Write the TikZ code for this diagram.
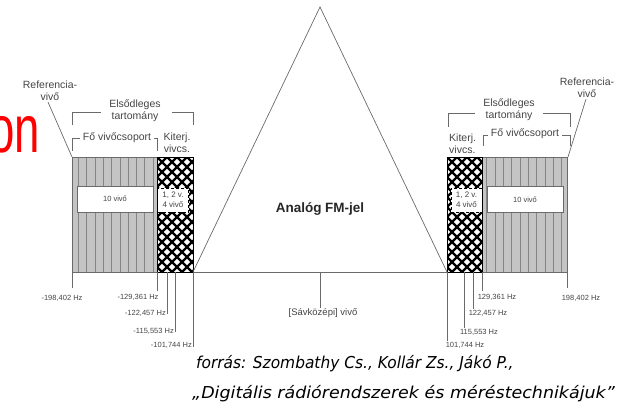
\documentclass[tikz,border=0pt]{standalone}
\usepackage{fontspec}
\setmainfont{Liberation Sans}
\newfontfamily\capfont{DejaVu Sans}
\definecolor{txtgray}{HTML}{444444}
\definecolor{linegray}{HTML}{6A6A6A}
\definecolor{stripefill}{HTML}{C4C4C4}
\definecolor{stripeline}{HTML}{858585}
\begin{document}
\begin{tikzpicture}[x=1pt,y=-1pt,
  lbl/.style={font=\fontsize{10.5}{12}\selectfont, text=txtgray, inner sep=0pt, align=center},
  freq/.style={font=\fontsize{7.5}{8}\selectfont, text=txtgray, inner sep=0pt},
  ln/.style={draw=linegray, line width=0.7pt},
  stripe/.style={draw=stripeline, line width=0.9pt},
  hatch/.style={draw=black, line width=2.2pt},
  bigbox/.style={draw=linegray, fill=white, line width=0.6pt, minimum width=76pt, minimum height=26pt, inner sep=0pt, font=\fontsize{7.5}{8}\selectfont, text=txtgray},
  smallbox/.style={draw=black, densely dashed, fill=white, line width=0.6pt, minimum width=31pt, minimum height=24pt, inner sep=0pt, align=center, font=\fontsize{8}{10}\selectfont, text=txtgray},
  capt/.style={font=\capfont\itshape\fontsize{16.4}{20}\selectfont, text=black, inner sep=0pt, anchor=base west}
]
\useasboundingbox (0,0) rectangle (619,412);

% partial red title
\node[anchor=base east, inner sep=0pt, text=red, font=\fontsize{67}{67}\selectfont, xscale=0.68] (title) at (40,153) {on};

% ---------- left blocks ----------
\fill[stripefill] (72,157) rectangle (157,272);
\foreach \i in {0,...,9} \draw[stripe] ({78.3+8.33*\i},157) -- ({78.3+8.33*\i},272);
\draw[draw=linegray, line width=0.6pt] (72,157) rectangle (157,272);
\begin{scope}
  \clip (157,157) rectangle (193,272);
  \fill[white] (157,157) rectangle (193,272);
  \foreach \k in {-13,...,4} \draw[hatch] ({157+10*\k},157) -- ++(135,135);
  \foreach \k in {0,...,17} \draw[hatch] ({157+10*\k},157) -- ++(-135,135);
\end{scope}
\draw[black, line width=0.6pt] (157,157) rectangle (193,272);
\node[bigbox] (tenL) at (115,199) {10 vivő};
\node[smallbox] (kiL) at (173,200) {1, 2 v.\\4 vivő};

% ---------- right blocks ----------
\fill[stripefill] (482,157) rectangle (567,272);
\foreach \i in {0,...,9} \draw[stripe] ({561.7-8.33*\i},157) -- ({561.7-8.33*\i},272);
\draw[draw=linegray, line width=0.6pt] (482,157) rectangle (567,272);
\begin{scope}
  \clip (447,157) rectangle (482,272);
  \fill[white] (447,157) rectangle (482,272);
  \foreach \k in {-13,...,4} \draw[hatch] ({447+10*\k},157) -- ++(135,135);
  \foreach \k in {0,...,17} \draw[hatch] ({447+10*\k},157) -- ++(-135,135);
\end{scope}
\draw[black, line width=0.6pt] (447,157) rectangle (482,272);
\node[bigbox] (tenR) at (525,199.5) {10 vivő};
\node[smallbox] (kiR) at (466.5,200) {1, 2 v.\\4 vivő};

% ---------- triangle and axis ----------
\coordinate (baseL) at (193,272);
\coordinate (baseR) at (447,272);
\coordinate (apex) at (320,7);
\coordinate (mid) at (320,272);
\draw[ln] (baseL) -- (apex) -- (baseR);
\draw[ln] (baseL) -- (baseR);
\node[font=\bfseries\fontsize{13.5}{14}\selectfont, text=black!85, inner sep=0pt] (fm) at (320,209) {Analóg FM-jel};
\node[lbl, font=\fontsize{9.5}{10}\selectfont] (center) at (323,313) {[Sávközépi] vivő};
\draw[ln] (mid) -- (center.north -| mid);

% ---------- reference carriers ----------
\node[lbl] (refL) at (50,91) {Referencia-\\vivő};
\coordinate (refLend) at (72,157);
\draw[ln] (refL.south) ++(-2,1) -- (refLend);
\node[lbl] (refR) at (587,88) {Referencia-\\vivő};
\coordinate (refRend) at (568,157);
\draw[ln] (refR.south) ++(-1,1) -- (refRend);

% ---------- brackets left ----------
\node[lbl] (elsL) at (135,111) {Elsődleges\\tartomány};
\draw[ln] (72,125) -- (72,112) -- (101,112);
\draw[ln] (172,112) -- (193,112) -- (193,125);
\node[lbl] (foL) at (117,138) {Fő vivőcsoport};
\draw[ln] (72,151) -- (72,138) -- (80,138);
\draw[ln] (154,138) -- (157,138) -- (157,151);
\node[lbl] (kitL) at (177,143) {Kiterj.\\vivcs.};

% ---------- brackets right ----------
\node[lbl] (elsR) at (509,110) {Elsődleges\\tartomány};
\draw[ln] (448,127) -- (448,113) -- (475,113);
\draw[ln] (543,113) -- (570,113) -- (570,127);
\node[lbl] (foR) at (525,134) {Fő vivőcsoport};
\draw[ln] (483,146) -- (483,135) -- (488,135);
\draw[ln] (562,135) -- (570,135) -- (570,146);
\node[lbl, align=left, anchor=west] (kitR) at (449,144) {Kiterj.\\vivcs.};

% ---------- frequency labels left ----------
\node[freq] (fL1) at (62,298) {-198,402 Hz};
\node[freq] (fL2) at (138,297) {-129,361 Hz};
\node[freq, anchor=east] (fL3) at (166,313) {-122,457 Hz};
\node[freq, anchor=east] (fL4) at (174,331) {-115,553 Hz};
\node[freq, anchor=east] (fL5) at (192,345) {-101,744 Hz};
\draw[ln] (72,272) -- (72,288);
\draw[ln] (157,272) -- (157,291);
\draw[ln] (167,272) -- (167,314);
\draw[ln] (175,272) -- (175,332);
\draw[ln] (193,272) -- (193,347);

% ---------- frequency labels right ----------
\node[freq] (fR1) at (497,297) {129,361 Hz};
\node[freq] (fR2) at (488,313) {122,457 Hz};
\node[freq] (fR3) at (479,332) {115,553 Hz};
\node[freq] (fR4) at (465,345) {101,744 Hz};
\node[freq] (fR5) at (581,298) {198,402 Hz};
\draw[ln] (482,272) -- (482,291);
\draw[ln] (473,272) -- (473,309);
\draw[ln] (464,272) -- (464,328);
\draw[ln] (447,272) -- (447,341);
\draw[ln] (567,272) -- (567,288);

% ---------- caption ----------
\node[capt, xscale=0.94] (cap1) at (196,368) {forrás: Szombathy Cs., Kollár Zs., Jákó P.,};
\node[capt, xscale=1.065] (cap2) at (192,398) {„Digitális rádiórendszerek és méréstechnikájuk”};
\end{tikzpicture}
\end{document}
